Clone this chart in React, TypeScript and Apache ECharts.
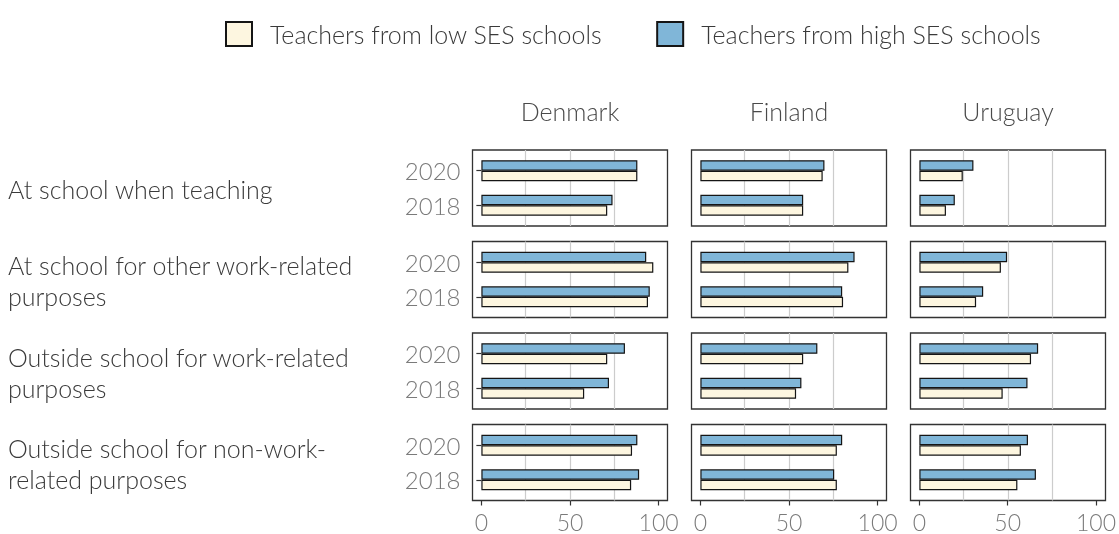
import React, { useEffect, useRef } from "react";
import * as echarts from "echarts";

// ---- data ----
const purposes = [
  "At school when teaching",
  "At school for other work-related\npurposes",
  "Outside school for work-related\npurposes",
  "Outside school for non-work-\nrelated purposes",
];
const countries = ["Denmark", "Finland", "Uruguay"];
const years = ["2018", "2020"];
const lowName = "Teachers from low SES schools";
const highName = "Teachers from high SES schools";
const xTickValues = [0, 50, 100];
const gridValues = [25, 50, 75];

// values per purpose: [2018, 2020]
const denmarkHigh = [[74, 88], [95, 93], [72, 81], [89, 88]];
const denmarkLow = [[71, 88], [94, 97], [58, 71], [84.5, 85]];
const finlandHigh = [[58, 70], [80, 87], [57, 66], [75.5, 80]];
const finlandLow = [[58, 69], [80.5, 83.5], [54, 58], [77, 77]];
const uruguayHigh = [[20, 30.5], [36, 49.5], [61, 67], [66, 61.5]];
const uruguayLow = [[15, 24.5], [32, 46], [47, 63], [55.5, 57.5]];

const highByCountry = [denmarkHigh, finlandHigh, uruguayHigh];
const lowByCountry = [denmarkLow, finlandLow, uruguayLow];

// ---- layout ----
const colLeft = [472.5, 691.5, 910.5];
const panelW = 195;
const rowTop = [150, 241.5, 333, 424.5];
const panelH = 76;
const innerOff = 3.45;
const innerH = 69.1;

const FONT = "Lato";
const lowColor = "#fdf6e0";
const highColor = "#80b6d8";
const TXT = 25;

export default function App() {
  const ref = useRef<HTMLDivElement>(null);
  useEffect(() => {
    if (!ref.current) return;
    const chart = echarts.init(ref.current, undefined, { renderer: "svg" });
    const nP = purposes.length * countries.length;
    const grids: any[] = [];
    const xAxes: any[] = [];
    const yAxes: any[] = [];
    const series: any[] = [];
    // box grids
    for (let r = 0; r < purposes.length; r++) {
      for (let c = 0; c < countries.length; c++) {
        const i = r * countries.length + c;
        grids.push({
          left: colLeft[c], top: rowTop[r], width: panelW, height: panelH,
          show: true, borderColor: "#333333", borderWidth: 1.3, backgroundColor: "transparent",
        });
        xAxes.push({
          gridIndex: i, type: "value", min: -5, max: 105,
          axisLine: { show: false },
          axisTick: { show: false, customValues: gridValues },
          axisLabel: { show: false },
          splitLine: { show: true, lineStyle: { color: "#cccccc", width: 1.2 } },
        });
        yAxes.push({ gridIndex: i, type: "value", show: false, min: 0, max: 1 });
      }
    }
    // bar grids
    for (let r = 0; r < purposes.length; r++) {
      for (let c = 0; c < countries.length; c++) {
        const p = r * countries.length + c;
        const gi = nP + p;
        const bottom = r === purposes.length - 1;
        const first = c === 0;
        grids.push({ left: colLeft[c], top: rowTop[r] + innerOff, width: panelW, height: innerH });
        xAxes.push({
          gridIndex: gi, type: "value", min: -5, max: 105, show: bottom,
          offset: panelH - innerOff - innerH,
          axisLine: { show: false },
          axisTick: { show: bottom, length: 5, customValues: xTickValues, lineStyle: { color: "#333333", width: 1.2 } },
          axisLabel: { show: bottom, customValues: xTickValues, color: "#7a7a7a", fontSize: 23, lineHeight: 20, fontFamily: FONT, fontWeight: 300, margin: 11 },
          splitLine: { show: false },
        });
        yAxes.push({
          gridIndex: gi, type: "category", data: years,
          axisLine: { show: false },
          axisTick: { show: first, length: 5, alignWithLabel: true, lineStyle: { color: "#333333", width: 1.2 } },
          axisLabel: { show: first, color: "#7a7a7a", fontSize: 24, fontFamily: FONT, fontWeight: 300, margin: 12 },
          splitLine: { show: false },
        });
        const common = {
          type: "bar", xAxisIndex: gi, yAxisIndex: gi, barWidth: 10.5, barGap: "0%",
        };
        series.push({
          ...common, name: highName,
          itemStyle: { color: highColor, borderColor: "#151515", borderWidth: 1.2 },
          data: highByCountry[c][r],
        });
        series.push({
          ...common, name: lowName,
          itemStyle: { color: lowColor, borderColor: "#151515", borderWidth: 1.2 },
          data: lowByCountry[c][r],
        });
      }
    }
    const graphic: any[] = [];
    purposes.forEach((t, r) => {
      graphic.push({
        type: "text", x: 8, y: rowTop[r] + panelH / 2 + 1,
        style: { text: t, fill: "#3a3a3a", fontSize: TXT, fontFamily: FONT, fontWeight: 300, align: "left", verticalAlign: "middle", lineHeight: 31 },
      });
    });
    countries.forEach((t, c) => {
      graphic.push({
        type: "text", x: colLeft[c] + panelW / 2, y: 111,
        style: { text: t, fill: "#4a4a4a", fontSize: TXT, fontFamily: FONT, fontWeight: 300, align: "center", verticalAlign: "middle" },
      });
    });
    chart.setOption({
      animation: false,
      textStyle: { fontFamily: FONT, fontWeight: 300 },
      legend: {
        left: 225, top: 21, padding: 0, itemWidth: 26, itemHeight: 24, itemGap: 54, icon: "rect",
        data: [lowName, highName],
        textStyle: { fontSize: TXT, color: "#3a3a3a", fontFamily: FONT, fontWeight: 300, padding: [0, 0, 0, 13] },
      },
      grid: grids,
      xAxis: xAxes,
      yAxis: yAxes,
      series,
      graphic,
    });
    return () => chart.dispose();
  }, []);
  return <div ref={ref} style={{ position: "fixed", left: 0, top: 0, width: 1119, height: 534 }} />;
}
